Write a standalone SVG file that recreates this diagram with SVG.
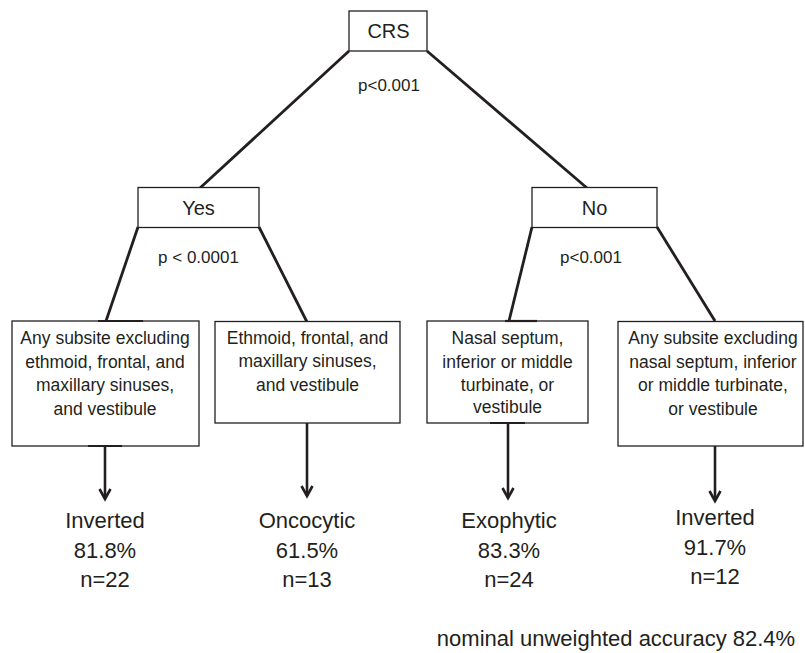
<svg xmlns="http://www.w3.org/2000/svg" width="805" height="653" viewBox="0 0 805 653">
<style>
text{font-family:"Liberation Sans",Arial,sans-serif;fill:#231f20;text-anchor:middle}
.box{fill:#fff;stroke:#231f20;stroke-width:1.3}
.lbl{font-size:20px}
.p{font-size:17px}
.bt{font-size:17.5px}
.res{font-size:22px}
.edge{stroke:#231f20;stroke-width:2.8;fill:none}
.bar{stroke:#231f20;stroke-width:2.2}
.arr{stroke:#231f20;stroke-width:2.6;fill:none;marker-end:url(#ah)}
</style>
<defs>
<marker id="ah" markerUnits="userSpaceOnUse" markerWidth="16" markerHeight="16" viewBox="-12 -8 14 16" refX="0" refY="0" orient="auto">
<path d="M-10,-5.5 L0,0 L-10,5.5" fill="none" stroke="#231f20" stroke-width="2.6"/>
</marker>
</defs>
<g id="connectors">
<line class="edge" x1="349" y1="51" x2="200" y2="188"/>
<line class="edge" x1="427" y1="51" x2="587" y2="188"/>
<line class="edge" x1="138" y1="227" x2="106" y2="321"/>
<line class="edge" x1="259" y1="227" x2="307" y2="322"/>
<line class="edge" x1="532" y1="227" x2="509" y2="321"/>
<line class="edge" x1="657" y1="227" x2="715" y2="321"/>
<line class="arr" x1="105" y1="446" x2="105" y2="499"/>
<line class="arr" x1="307" y1="423" x2="307" y2="496"/>
<line class="arr" x1="508" y1="423" x2="508" y2="498"/>
<line class="arr" x1="715" y1="446" x2="715" y2="501"/>
</g>
<g id="crs"><rect class="box" x="349" y="11" width="78" height="40"/><text class="lbl" x="388.5" y="38">CRS</text></g>
<g id="p1"><text class="p" x="389" y="91">p&lt;0.001</text></g>
<g id="yes"><rect class="box" x="138" y="187.5" width="121" height="40"/><text class="lbl" x="198.5" y="215">Yes</text></g>
<g id="no"><rect class="box" x="532" y="187.5" width="125" height="40"/><text class="lbl" x="594.5" y="215">No</text></g>
<g id="p2"><text class="p" x="198.5" y="263">p &lt; 0.0001</text></g>
<g id="p3"><text class="p" x="591" y="263">p&lt;0.001</text></g>
<g id="box1"><rect class="box" x="12" y="321" width="187" height="125"/>
<text class="bt" x="105" y="344">Any subsite excluding</text>
<text class="bt" x="105" y="367.5">ethmoid, frontal, and</text>
<text class="bt" x="105" y="391">maxillary sinuses,</text>
<text class="bt" x="105" y="414.5">and vestibule</text>
<line class="bar" x1="98" y1="321" x2="143" y2="321"/>
<line class="bar" x1="88" y1="446" x2="122" y2="446"/>
</g>
<g id="box2"><rect class="box" x="215" y="321.5" width="185" height="101.5"/>
<text class="bt" x="307.5" y="343.5">Ethmoid, frontal, and</text>
<text class="bt" x="307.5" y="367">maxillary sinuses,</text>
<text class="bt" x="307.5" y="390.5">and vestibule</text>
</g>
<g id="box3"><rect class="box" x="427" y="321" width="161" height="102"/>
<text class="bt" x="507.5" y="344">Nasal septum,</text>
<text class="bt" x="507.5" y="367.5">inferior or middle</text>
<text class="bt" x="507.5" y="391">turbinate, or</text>
<text class="bt" x="507.5" y="413">vestibule</text>
<line class="bar" x1="505" y1="321" x2="537" y2="321"/>
<line class="bar" x1="490" y1="423" x2="525" y2="423"/>
</g>
<g id="box4"><rect class="box" x="618" y="321.5" width="185" height="124.5"/>
<text class="bt" x="713" y="344">Any subsite excluding</text>
<text class="bt" x="713" y="367.5">nasal septum, inferior</text>
<text class="bt" x="713" y="391">or middle turbinate,</text>
<text class="bt" x="713" y="414.5">or vestibule</text>
</g>
<g id="res1"><text class="res" x="105" y="528">Inverted</text><text class="res" x="105" y="558">81.8%</text><text class="res" x="105" y="587">n=22</text></g>
<g id="res2"><text class="res" x="307" y="528">Oncocytic</text><text class="res" x="307" y="558">61.5%</text><text class="res" x="307" y="587">n=13</text></g>
<g id="res3"><text class="res" x="509" y="528">Exophytic</text><text class="res" x="509" y="558">83.3%</text><text class="res" x="509" y="587">n=24</text></g>
<g id="res4"><text class="res" x="715" y="525">Inverted</text><text class="res" x="715" y="555">91.7%</text><text class="res" x="715" y="584">n=12</text></g>
<g id="accuracy"><text class="res" x="616" y="646">nominal unweighted accuracy 82.4%</text></g>
</svg>
